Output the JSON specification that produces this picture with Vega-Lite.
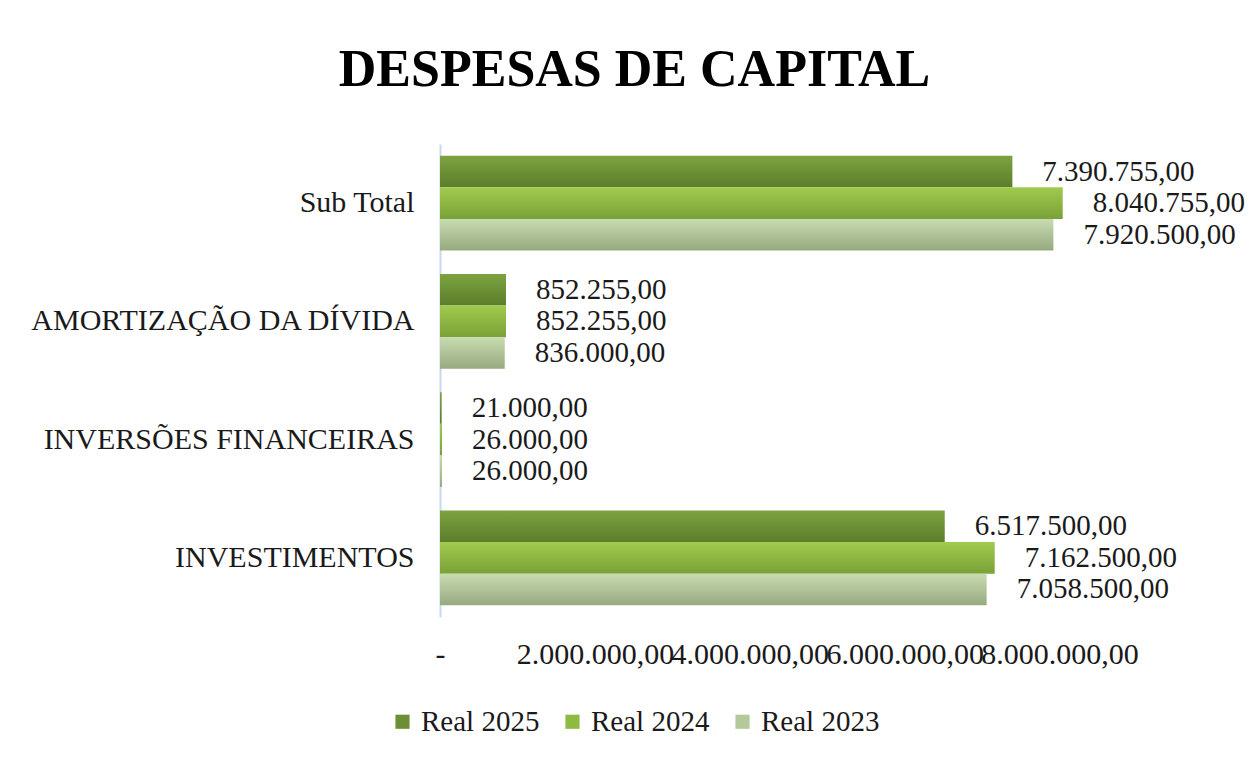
{
  "$schema": "https://vega.github.io/schema/vega-lite/v6.json",
  "width": 697,
  "height": 473,
  "autosize": {"type": "none"},
  "padding": {"left": 440, "top": 144, "right": 121, "bottom": 150},
  "background": "white",
  "config": {
    "locale": {"number": {"decimal": ",", "thousands": ".", "grouping": [3], "currency": ["R$ ", ""]}},
    "view": {"stroke": null},
    "font": "Liberation Serif"
  },
  "title": {
    "text": "DESPESAS DE CAPITAL",
    "fontSize": 52,
    "font": "Liberation Serif",
    "fontWeight": "bold",
    "color": "black",
    "anchor": "middle",
    "dx": -154,
    "offset": 47
  },
  "data": {
    "values": [
      {"categoria": "Sub Total", "serie": "Real 2025", "valor": 7390755},
      {"categoria": "Sub Total", "serie": "Real 2024", "valor": 8040755},
      {"categoria": "Sub Total", "serie": "Real 2023", "valor": 7920500},
      {"categoria": "AMORTIZAÇÃO DA DÍVIDA", "serie": "Real 2025", "valor": 852255},
      {"categoria": "AMORTIZAÇÃO DA DÍVIDA", "serie": "Real 2024", "valor": 852255},
      {"categoria": "AMORTIZAÇÃO DA DÍVIDA", "serie": "Real 2023", "valor": 836000},
      {"categoria": "INVERSÕES FINANCEIRAS", "serie": "Real 2025", "valor": 21000},
      {"categoria": "INVERSÕES FINANCEIRAS", "serie": "Real 2024", "valor": 26000},
      {"categoria": "INVERSÕES FINANCEIRAS", "serie": "Real 2023", "valor": 26000},
      {"categoria": "INVESTIMENTOS", "serie": "Real 2025", "valor": 6517500},
      {"categoria": "INVESTIMENTOS", "serie": "Real 2024", "valor": 7162500},
      {"categoria": "INVESTIMENTOS", "serie": "Real 2023", "valor": 7058500}
    ]
  },
  "encoding": {
    "y": {
      "field": "categoria",
      "type": "nominal",
      "sort": ["Sub Total", "AMORTIZAÇÃO DA DÍVIDA", "INVERSÕES FINANCEIRAS", "INVESTIMENTOS"],
      "scale": {"paddingInner": 0.2, "paddingOuter": 0.1},
      "axis": {
        "title": null,
        "domain": true,
        "domainColor": "#c6d9f1",
        "domainWidth": 2,
        "ticks": false,
        "labelFont": "Liberation Serif",
        "labelFontSize": 30,
        "labelColor": "#1a1a1a",
        "labelPadding": 26,
        "labelLimit": 500
      }
    },
    "yOffset": {
      "field": "serie",
      "type": "nominal",
      "sort": ["Real 2025", "Real 2024", "Real 2023"],
      "scale": {"paddingInner": 0}
    },
    "x": {
      "field": "valor",
      "type": "quantitative",
      "scale": {"domain": [0, 9000000], "nice": false},
      "axis": {
        "title": null,
        "domain": false,
        "ticks": false,
        "grid": false,
        "values": [0, 2000000, 4000000, 6000000, 8000000],
        "labelExpr": "datum.value == 0 ? '-' : format(datum.value, ',.2f')",
        "labelFont": "Liberation Serif",
        "labelFontSize": 30,
        "labelColor": "#1a1a1a",
        "labelPadding": 22,
        "labelOverlap": false,
        "labelFlush": false
      }
    }
  },
  "layer": [
    {
      "mark": {"type": "bar"},
      "encoding": {
        "color": {
          "condition": [
            {"test": "datum.serie == 'Real 2025'", "value": {"gradient": "linear", "x1": 0, "y1": 0, "x2": 0, "y2": 1, "stops": [{"offset": 0, "color": "#7ca33f"}, {"offset": 1, "color": "#5d7d2b"}]}},
            {"test": "datum.serie == 'Real 2024'", "value": {"gradient": "linear", "x1": 0, "y1": 0, "x2": 0, "y2": 1, "stops": [{"offset": 0, "color": "#a0cb4d"}, {"offset": 1, "color": "#79a137"}]}},
            {"test": "datum.serie == 'Real 2023'", "value": {"gradient": "linear", "x1": 0, "y1": 0, "x2": 0, "y2": 1, "stops": [{"offset": 0, "color": "#c8dcb1"}, {"offset": 1, "color": "#97a97f"}]}}
          ],
          "field": "serie",
          "type": "nominal",
          "sort": ["Real 2025", "Real 2024", "Real 2023"],
          "scale": {"domain": ["Real 2025", "Real 2024", "Real 2023"], "range": ["#6c8f33", "#8fba42", "#b4c999"]},
          "legend": {
            "title": null,
            "orient": "none",
            "direction": "horizontal",
            "legendX": -52,
            "legendY": 563,
            "symbolType": "square",
            "symbolSize": 200,
            "symbolStrokeWidth": 0,
            "labelFont": "Liberation Serif",
            "labelFontSize": 29,
            "labelColor": "#1a1a1a",
            "columnPadding": 18,
            "labelOffset": 4
          }
        }
      }
    },
    {
      "mark": {"type": "text", "align": "left", "baseline": "middle", "dx": 30, "font": "Liberation Serif", "fontSize": 29, "color": "#1a1a1a"},
      "encoding": {
        "text": {"field": "valor", "type": "quantitative", "format": ",.2f"}
      }
    }
  ]
}
